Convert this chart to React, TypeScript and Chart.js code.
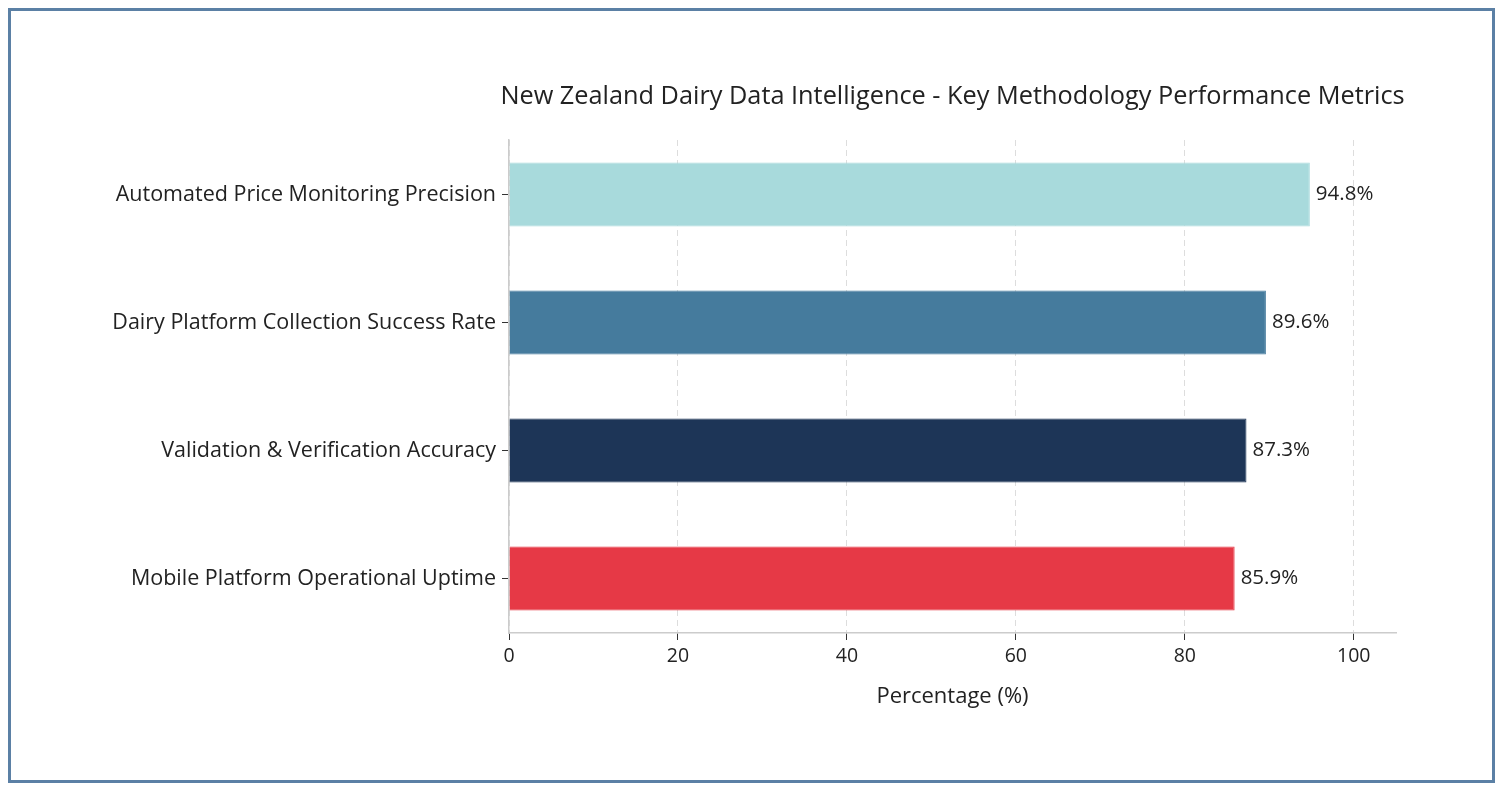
import React, { useEffect, useRef } from "react";
import { Chart, registerables } from "chart.js";

Chart.register(...registerables);

const categories = [
  "Automated Price Monitoring Precision",
  "Dairy Platform Collection Success Rate",
  "Validation & Verification Accuracy",
  "Mobile Platform Operational Uptime",
];
const values = [94.8, 89.6, 87.3, 85.9];
const barColors = ["#a8dadc", "#457b9d", "#1d3557", "#e63946"];
const xTicks = [0, 20, 40, 60, 80, 100];
const titleText = "New Zealand Dairy Data Intelligence - Key Methodology Performance Metrics";
const xAxisTitle = "Percentage (%)";

const FONT = "'Open Sans'";

const valueLabels = {
  id: "valueLabels",
  afterDatasetsDraw(chart: any) {
    const ctx = chart.ctx;
    const meta = chart.getDatasetMeta(0);
    ctx.save();
    ctx.font = `20.5px ${FONT}`;
    ctx.fillStyle = "#222";
    ctx.textAlign = "left";
    ctx.textBaseline = "middle";
    meta.data.forEach((bar: any, i: number) => {
      ctx.fillText(`${values[i]}%`, bar.x + 6, bar.y);
    });
    ctx.restore();
  },
};

const areaTitle = {
  id: "areaTitle",
  afterDraw(chart: any) {
    const { ctx, chartArea } = chart;
    ctx.save();
    ctx.font = `25.3px ${FONT}`;
    ctx.fillStyle = "#222";
    ctx.textAlign = "center";
    ctx.textBaseline = "middle";
    ctx.fillText(titleText, (chartArea.left + chartArea.right) / 2, chartArea.top - 43);
    ctx.restore();
  },
};

export default function App() {
  const ref = useRef<HTMLCanvasElement>(null);
  useEffect(() => {
    if (!ref.current) return;
    const chart = new Chart(ref.current, {
      type: "bar",
      data: {
        datasets: [
          {
            data: values.map((v, i) => ({ x: v, y: i })),
            backgroundColor: barColors,
            borderColor: barColors,
            borderWidth: 1,
            categoryPercentage: 1,
            barPercentage: 0.5,
          },
        ],
      },
      options: {
        indexAxis: "y",
        animation: false,
        responsive: true,
        maintainAspectRatio: false,
        layout: { padding: { left: 0, right: 96, top: 129, bottom: 0 } },
        plugins: {
          legend: { display: false },
          tooltip: { enabled: false },
          title: { display: false },
        },
        scales: {
          x: {
            type: "linear",
            min: 0,
            max: 105,
            ticks: {
              stepSize: 20,
              includeBounds: false,
              color: "#222",
              font: { family: FONT, size: 19.5 },
              padding: 5,
              callback: (v: any) => (xTicks.includes(v) ? String(v) : ""),
            },
            grid: {
              color: "#dddddd",
              lineWidth: 1,
              tickColor: "#333",
              tickLength: 7,
              tickBorderDash: [],
            },
            border: { display: true, color: "#cccccc", width: 1.5, dash: [6, 4] },
            title: {
              display: true,
              text: xAxisTitle,
              color: "#222",
              font: { family: FONT, size: 22 },
              padding: { top: 0, bottom: 70 },
            },
            afterFit: (s: any) => {
              s.height = 147;
            },
          },
          y: {
            type: "linear",
            min: -0.425,
            max: 3.425,
            reverse: true,
            offset: false,
            ticks: {
              stepSize: 1,
              includeBounds: false,
              color: "#222",
              font: { family: FONT, size: 21.5 },
              padding: 6,
              callback: (v: any) => categories[v] ?? "",
            },
            grid: {
              drawOnChartArea: false,
              offset: false,
              tickColor: "#333",
              tickLength: 7,
            },
            border: { display: true, color: "#cccccc", width: 1.5 },
            afterFit: (s: any) => {
              s.width = 498;
            },
          },
        },
      },
      plugins: [valueLabels, areaTitle],
    });
    return () => chart.destroy();
  }, []);

  return (
    <div
      style={{
        border: "3px solid #5b80a5",
        width: 1481,
        height: 769,
        background: "#fff",
      }}
    >
      <div style={{ position: "relative", width: 1481, height: 769 }}>
        <canvas ref={ref} />
      </div>
    </div>
  );
}
